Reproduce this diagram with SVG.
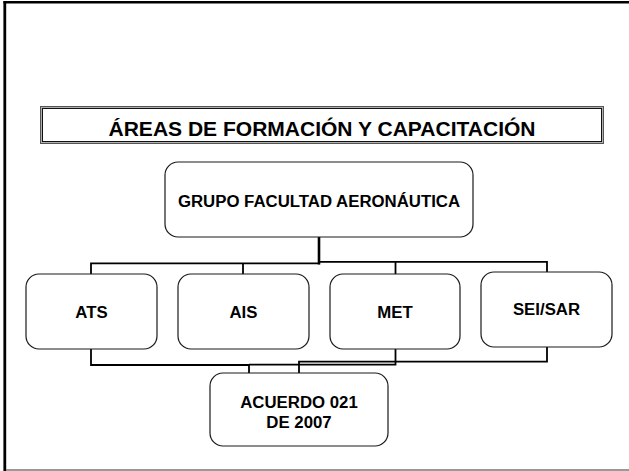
<svg xmlns="http://www.w3.org/2000/svg" width="629" height="471" viewBox="0 0 629 471">
<style>
.node{fill:#fff;stroke:#1a1a1a;stroke-width:1.2}
.lbl{font-family:"Liberation Sans",Arial,sans-serif;font-weight:bold;fill:#000;text-anchor:middle}
.conn{fill:none;stroke:#000;stroke-width:1.8}
</style>
<rect width="629" height="471" fill="#fff"/>
<g id="frame">
<line x1="3.5" y1="2.3" x2="629" y2="2.3" stroke="#000" stroke-width="2.6"/>
<line x1="4.8" y1="1" x2="4.8" y2="471" stroke="#000" stroke-width="2.8"/>
<line x1="6" y1="470" x2="629" y2="470" stroke="#777" stroke-width="1.5"/>
</g>
<g id="title">
<rect x="41.5" y="107.5" width="561" height="35" fill="#fff" stroke="#b0b0b0" stroke-width="1.2"/>
<rect x="40.5" y="106.5" width="563" height="37" fill="none" stroke="#555" stroke-width="1"/>
<rect x="42.5" y="108.5" width="559" height="33" fill="none" stroke="#111" stroke-width="1"/>
<text class="lbl" x="322" y="135.5" font-size="21" textLength="427" lengthAdjust="spacingAndGlyphs">ÁREAS DE FORMACIÓN Y CAPACITACIÓN</text>
</g>
<g id="connectors">
<line x1="319" y1="237" x2="319" y2="264.5" stroke="#000" stroke-width="2.6"/>
<polyline class="conn" points="91,274 91,263.4 320,263.4"/>
<line class="conn" x1="243" y1="263.4" x2="243" y2="274"/>
<polyline class="conn" points="318,261.8 547,261.8 547,272"/>
<line class="conn" x1="395.5" y1="261.8" x2="395.5" y2="274"/>
<polyline class="conn" points="91,349 91,365 249,365 249,373"/>
<polyline class="conn" points="395.5,349 395.5,364.6 249,364.6"/>
<polyline class="conn" points="547,347 547,361.6 299,361.6 299,373"/>
</g>
<g id="grupo">
<rect class="node" x="165" y="162" width="308" height="75" rx="13"/>
<text class="lbl" x="319" y="206.5" font-size="16.8">GRUPO FACULTAD AERONÁUTICA</text>
</g>
<g id="ats">
<rect class="node" x="26" y="274" width="131" height="75" rx="13"/>
<text class="lbl" x="91.5" y="317.5" font-size="16.8">ATS</text>
</g>
<g id="ais">
<rect class="node" x="178" y="274" width="131" height="75" rx="13"/>
<text class="lbl" x="243.5" y="318" font-size="16.8">AIS</text>
</g>
<g id="met">
<rect class="node" x="330" y="274" width="130" height="75" rx="13"/>
<text class="lbl" x="395" y="317.5" font-size="16.8">MET</text>
</g>
<g id="seisar">
<rect class="node" x="481" y="272" width="131" height="75" rx="13"/>
<text class="lbl" x="546.5" y="315" font-size="16.8">SEI/SAR</text>
</g>
<g id="acuerdo">
<rect class="node" x="210" y="373" width="178" height="73" rx="13"/>
<text class="lbl" x="299" y="407.5" font-size="16.8">ACUERDO 021</text>
<text class="lbl" x="299" y="427.5" font-size="16.8">DE 2007</text>
</g>
</svg>
